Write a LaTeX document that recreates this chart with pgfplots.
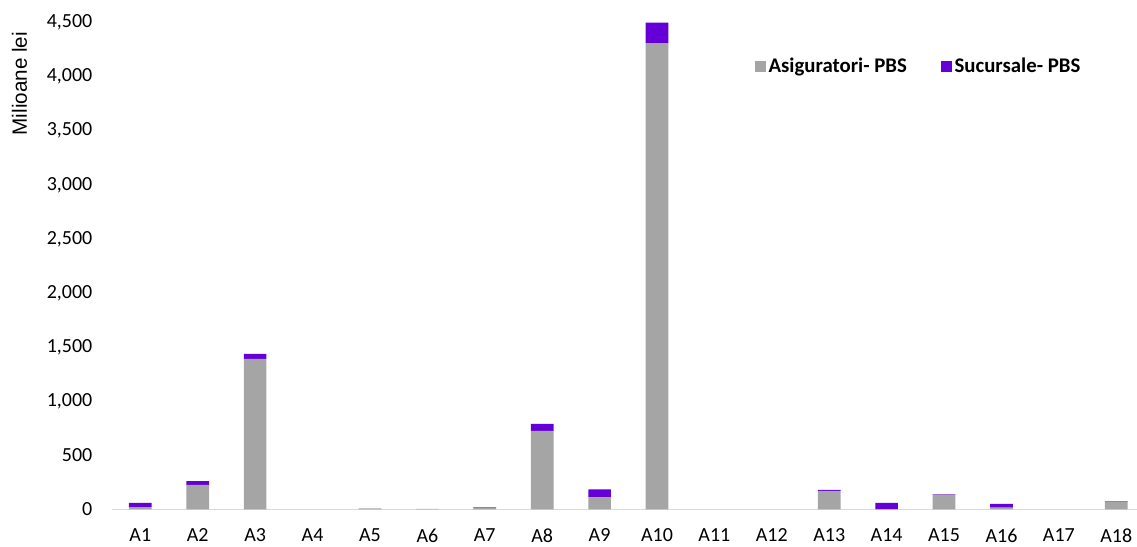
\documentclass[border=0pt]{standalone}
\usepackage{fontspec}
\setmainfont{Carlito}
\newfontfamily\arialfont{Liberation Sans}
\usepackage{pgfplots}
\pgfplotsset{compat=1.18}
\definecolor{asig}{RGB}{165,165,165}
\definecolor{suc}{RGB}{100,0,215}
\begin{document}
\begin{tikzpicture}
\useasboundingbox (-83.7pt,-27.5pt) rectangle (769.05pt,382pt);
\begin{axis}[
  at={(0pt,0pt)}, anchor=south west,
  scale only axis, width=769pt, height=365.1pt,
  xmin=-0.5, xmax=17.36, ymin=0, ymax=4500,
  enlargelimits=false, clip=false,
  ybar stacked, bar width=17pt,
  axis lines=left,
  axis line style={-},
  y axis line style={draw=none},
  x axis line style={draw=black!15, line width=1.2pt},
  major tick length=0pt,
  xtick={0,...,17},
  xticklabels={A1,A2,A3,A4,A5,A6,A7,A8,A9,A10,A11,A12,A13,A14,A15,A16,A17,A18},
  ytick={0,500,...,4500},
  /pgf/number format/.cd, 1000 sep={,}, assume math mode=true, /pgfplots/.cd,
  tick label style={font=\fontsize{15}{18}\selectfont},
  xticklabel style={anchor=north, inner sep=0pt, yshift=-14.5pt},
  yticklabel style={anchor=east, inner sep=0pt, xshift=-14.25pt},
  legend columns=2,
  legend style={draw=none, fill=none, inner sep=0pt, outer sep=0pt,
    at={(rel axis cs:0.6274,0.9096)}, anchor=west,
    font=\bfseries\fontsize{15.6}{18}\selectfont,
    nodes={inner sep=2pt},
    /tikz/every even column/.append style={column sep=23.5pt}},
]
\addplot[fill=asig, draw=none,
  legend image code/.code={\fill[asig] (0pt,-4.35pt) rectangle (8.25pt,4.35pt);}]
  coordinates {(0,20) (1,225) (2,1390) (3,0) (4,8) (5,5) (6,15) (7,725) (8,110)
  (9,4310) (10,0) (11,0) (12,170) (13,2) (14,135) (15,15) (16,0) (17,72)};
\addlegendentry{Asiguratori- PBS}
\addplot[fill=suc, draw=none,
  legend image code/.code={\fill[suc] (0pt,-4.35pt) rectangle (8.25pt,4.35pt);}]
  coordinates {(0,40) (1,35) (2,47) (3,0) (4,0) (5,0) (6,5) (7,65) (8,75)
  (9,190) (10,0) (11,0) (12,10) (13,58) (14,5) (15,35) (16,0) (17,3)};
\addlegendentry{Sucursale- PBS}
\end{axis}
\node[rotate=90, font=\arialfont\fontsize{15.5}{18}\selectfont] at (-69pt,319.3pt) {Milioane lei};
\end{tikzpicture}
\end{document}
